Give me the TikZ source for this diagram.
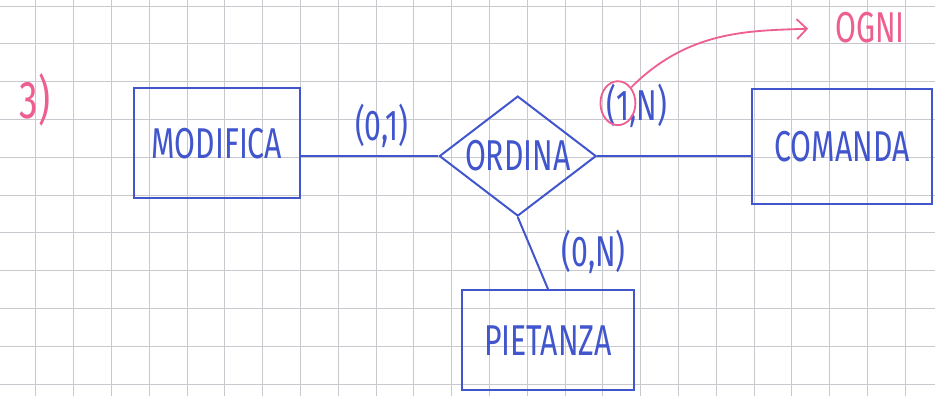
\documentclass[tikz,border=0pt]{standalone}
\usepackage{fontspec}
\newfontfamily\penna[FakeStretch=0.7]{Fira Sans}
\usetikzlibrary{shapes.geometric,arrows.meta}
\definecolor{penblu}{RGB}{65,85,205}
\definecolor{penrosa}{RGB}{238,95,145}
\definecolor{quadretti}{RGB}{200,200,206}

\begin{document}
\begin{tikzpicture}[x=0.8cm,y=0.8cm,
	entita/.style={draw=penblu,rectangle,line width=1.2pt,text=penblu,font=\penna\fontsize{26}{28}\selectfont},
	relazione/.style={draw=penblu,diamond,shape aspect=1.3,inner sep=0pt,line width=1.2pt,text=penblu,font=\penna\fontsize{26}{28}\selectfont},
	card/.style={text=penblu,font=\penna\fontsize{26}{28}\selectfont},
	linea/.style={draw=penblu,line width=1.2pt},
	rosa/.style={penrosa,line width=1.1pt}]
\fill[white] (0,0) rectangle (24.74,10.48);
\useasboundingbox (0,0) rectangle (24.74,10.48);
% quadretti del foglio
\foreach \x in {0,...,23}
	\draw[quadretti,line width=0.5pt] (0.95+\x,0) -- (0.95+\x,10.48);
\foreach \y in {0,...,10}
	\draw[quadretti,line width=0.5pt] (0,0.32+\y) -- (24.74,0.32+\y);

\node[text=penrosa,font=\penna\fontsize{32}{34}\selectfont] (es) at (0.93,7.83) {3)};

% entita e relazione
\node[entita,minimum width=3.5cm,minimum height=2.33cm] (modifica) at (5.74,6.69) {MODIFICA};
\node[relazione,minimum width=3.32cm,minimum height=2.54cm] (ordina) at (13.7,6.35) {ORDINA};
\node[entita,minimum width=3.81cm,minimum height=2.43cm] (comanda) at (22.28,6.61) {COMANDA};
\node[entita,minimum width=3.66cm,minimum height=2.12cm] (pietanza) at (14.5,1.48) {PIETANZA};

\draw[linea] (ordina.west) -- (ordina.west -| modifica.east);
\draw[linea] (ordina.east) -- (ordina.east -| comanda.west);
\draw[linea] (ordina.south) -- (pietanza.north);

% cardinalita
\node[card] (c01) at (10.1,7.14) {(0,1)};
\node[card] (c1n) at (16.85,7.67) {(1,N)};
\node[card] (c0n) at (15.71,3.81) {(0,N)};

% nota in rosa
\node[draw=penrosa,ellipse,line width=1.1pt,minimum width=0.74cm,minimum height=0.93cm] (cerchio) at (16.35,7.75) {};
\node[text=penrosa,font=\penna\fontsize{26}{28}\selectfont] (ogni) at (23.02,9.74) {OGNI};
\draw[rosa,-{Straight Barb[length=6pt,width=12pt]},shorten >=0.45cm] (cerchio.50) to[out=45,in=182] (ogni.west);
\end{tikzpicture}
\end{document}
